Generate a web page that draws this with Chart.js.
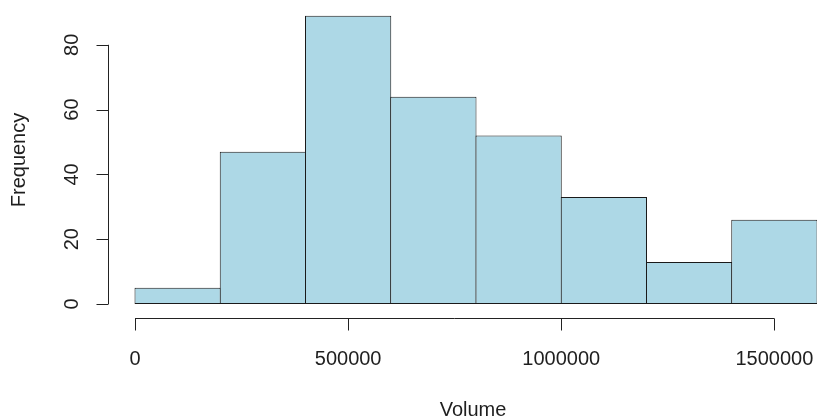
<!DOCTYPE html>
<html>
<head>
<meta charset="utf-8">
<script src="https://cdn.jsdelivr.net/npm/chart.js@4/dist/chart.umd.min.js"></script>
<style>
  body { margin: 0; background: #fff; }
  #wrap { width: 817px; height: 419px; position: relative; }
</style>
</head>
<body>
<div id="wrap"><canvas id="histChart"></canvas></div>
<script>
// histogram bins (edges) and counts
const binEdges = [0, 200000, 400000, 600000, 800000, 1000000, 1200000, 1400000, 1600000];
const counts = [5, 47, 89, 64, 52, 33, 13, 26];
const xTicks = [0, 500000, 1000000, 1500000];
const yTicks = [0, 20, 40, 60, 80];
const xTitle = 'Volume';
const yTitle = 'Frequency';

const FONT = '"Liberation Sans", Arial, sans-serif';
const INK = '#1f1f1f';

// one bar per bin, placed at the bin centre
const barData = counts.map((c, i) => ({ x: (binEdges[i] + binEdges[i + 1]) / 2, y: c }));

// R style axes: detached from the plot region
const rAxes = {
  id: 'rAxes',
  afterDraw(chart) {
    const { ctx, scales: { x, y } } = chart;
    ctx.save();
    ctx.strokeStyle = '#222';
    ctx.lineWidth = 1;
    ctx.fillStyle = INK;
    ctx.font = '20px ' + FONT;

    // x axis
    const ax = Math.round(y.getPixelForValue(0)) + 14.5;
    ctx.beginPath();
    ctx.moveTo(x.getPixelForValue(xTicks[0]), ax);
    ctx.lineTo(x.getPixelForValue(xTicks[xTicks.length - 1]), ax);
    xTicks.forEach(v => {
      const px = Math.round(x.getPixelForValue(v)) + 0.5;
      ctx.moveTo(px, ax);
      ctx.lineTo(px, ax + 12);
    });
    ctx.stroke();
    ctx.textAlign = 'center';
    ctx.textBaseline = 'alphabetic';
    xTicks.forEach(v => ctx.fillText(String(v), x.getPixelForValue(v), 365));

    // y axis
    const ay = Math.round(x.getPixelForValue(0)) - 26.5;
    ctx.beginPath();
    ctx.moveTo(ay, y.getPixelForValue(yTicks[0]));
    ctx.lineTo(ay, y.getPixelForValue(yTicks[yTicks.length - 1]));
    yTicks.forEach(v => {
      const py = Math.round(y.getPixelForValue(v)) + 0.5;
      ctx.moveTo(ay, py);
      ctx.lineTo(ay - 12, py);
    });
    ctx.stroke();
    yTicks.forEach(v => {
      ctx.save();
      ctx.translate(78, y.getPixelForValue(v));
      ctx.rotate(-Math.PI / 2);
      ctx.fillText(String(v), 0, 0);
      ctx.restore();
    });

    // axis titles
    ctx.fillText(xTitle, 473, 416);
    ctx.save();
    ctx.translate(25, 160);
    ctx.rotate(-Math.PI / 2);
    ctx.fillText(yTitle, 0, 0);
    ctx.restore();

    ctx.restore();
  }
};

const ctx = document.getElementById('histChart').getContext('2d');
const histChart = new Chart(ctx, {
  type: 'bar',
  data: {
    datasets: [{
      data: barData,
      backgroundColor: '#ADD8E6',
      borderColor: '#1a1a1a',
      borderWidth: 1,
      borderSkipped: false,
      barPercentage: 1.0118,
      categoryPercentage: 1,
      clip: false,
    }],
  },
  options: {
    responsive: true,
    maintainAspectRatio: false,
    animation: false,
    layout: { padding: { left: 135, right: 0, top: 12.4, bottom: 115 } },
    plugins: {
      legend: { display: false },
      tooltip: { enabled: false },
    },
    scales: {
      x: {
        type: 'linear',
        offset: false,
        min: binEdges[0],
        max: binEdges[binEdges.length - 1],
        display: false,
        afterBuildTicks: s => { s.ticks = xTicks.map(v => ({ value: v })); },
      },
      y: {
        min: 0,
        max: 90,
        display: false,
        afterBuildTicks: s => { s.ticks = yTicks.map(v => ({ value: v })); },
      },
    },
  },
  plugins: [rAxes],
});
</script>
</body>
</html>
